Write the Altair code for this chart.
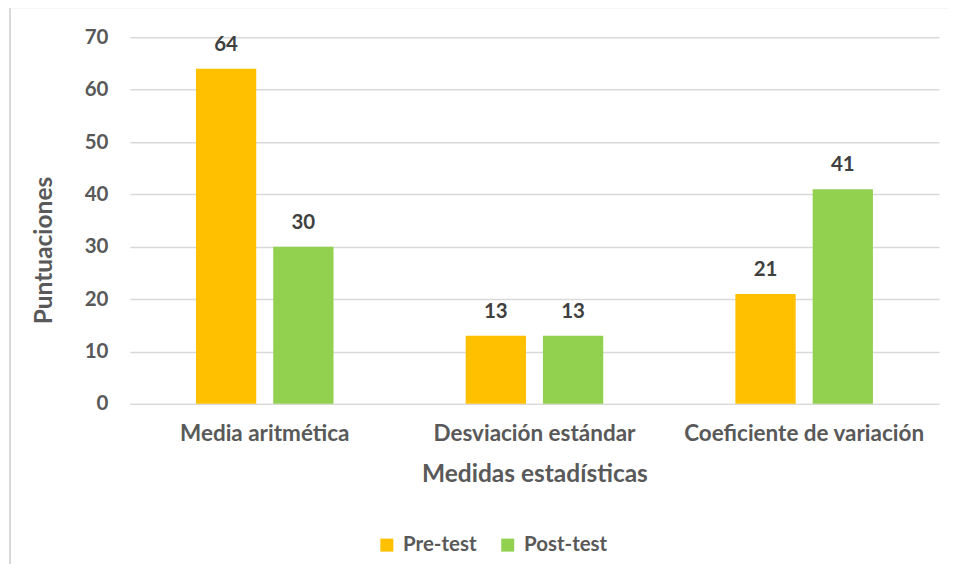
import altair as alt
import pandas as pd

categories = ["Media aritmética", "Desviación estándar", "Coeficiente de variación"]
series = ["Pre-test", "Post-test"]
pre_values = [64, 13, 21]
post_values = [30, 13, 41]
colors = ["#FFC000", "#92D050"]

rows = []
for c, a, b in zip(categories, pre_values, post_values):
    rows.append({"cat": c, "serie": series[0], "val": a})
    rows.append({"cat": c, "serie": series[1], "val": b})
df = pd.DataFrame(rows)

FONT = "Lato"
GRAY = "#595959"

x = alt.X("cat:N", sort=categories, title="Medidas estadísticas",
          scale=alt.Scale(paddingInner=0.49, paddingOuter=0.245),
          axis=alt.Axis(labelAngle=0, labelFont=FONT, labelFontSize=22.5, labelFontWeight="bold",
                        labelColor=GRAY, labelPadding=19, labelLimit=400, ticks=False,
                        domainColor="#D9D9D9", domainWidth=1.5,
                        titleFont=FONT, titleFontSize=24.5, titleFontWeight="bold",
                        titleColor=GRAY, titleY=71, titleBaseline="middle"))
xo = alt.XOffset("serie:N", sort=series, scale=alt.Scale(paddingInner=0.22, paddingOuter=0))
y = alt.Y("val:Q", title="Puntuaciones",
          scale=alt.Scale(domain=[0, 70]),
          axis=alt.Axis(values=[0, 10, 20, 30, 40, 50, 60, 70], labelFont=FONT, labelFontSize=20.5,
                        labelFontWeight="bold", labelColor=GRAY, labelPadding=22, ticks=False,
                        domain=False, gridColor="#D9D9D9", gridWidth=1.5,
                        titleFont=FONT, titleFontSize=24.5, titleFontWeight="bold", titleColor=GRAY,
                        titleX=-85, titleY=213, titleAngle=-90, titleBaseline="middle"))
color = alt.Color("serie:N", sort=series, scale=alt.Scale(domain=series, range=colors),
                  legend=alt.Legend(title=None, orient="none", direction="horizontal",
                                    legendX=247, legendY=498, symbolType="square", symbolSize=169,
                                    symbolStrokeWidth=0, labelFont=FONT, labelFontSize=20.5,
                                    labelFontWeight="bold", labelColor=GRAY, columnPadding=20,
                                    labelOffset=6))

bars = alt.Chart(df).mark_bar().encode(x=x, xOffset=xo, y=y, color=color)
labels = alt.Chart(df).mark_text(baseline="bottom", dy=-14, font=FONT, fontSize=20.5,
                                 fontWeight="bold", color="#404040").encode(
    x=alt.X("cat:N", sort=categories), xOffset=xo, y="val:Q", text="val:Q")

frame = alt.Chart(pd.DataFrame({"k": [0]})).mark_rect(
    fill=None, stroke="#D9D9D9", strokeWidth=2, clip=False).encode(
    x=alt.value(-120), x2=alt.value(840), y=alt.value(-30), y2=alt.value(600))

chart = alt.layer(frame, bars, labels).properties(
    width=810, height=367, autosize=alt.AutoSizeParams(type="none"),
    padding={"left": 122, "top": 29, "right": 10, "bottom": 160}
).configure_view(stroke=None)

chart.save("out.html", embed_options={"renderer": "svg", "actions": False})
